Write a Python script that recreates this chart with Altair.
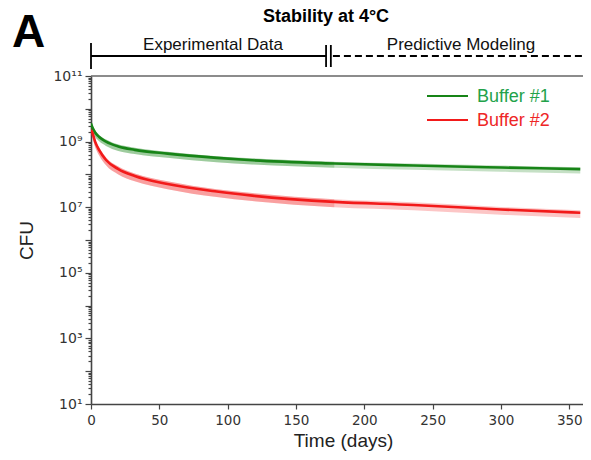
import altair as alt
import pandas as pd

# ---- data ----
days = [0, 1, 3, 6, 11, 20, 32, 56, 92, 118, 178, 236, 300, 358]
series_names = ["Buffer #1", "Buffer #2"]

buf1_cfu = [3.55e9, 2.75e9, 1.9e9, 1.38e9, 1.0e9, 7.1e8, 5.6e8, 4.3e8, 3.2e8, 2.7e8, 2.15e8, 1.86e8, 1.62e8, 1.45e8]
buf1_hi = [4.1e9, 3.2e9, 2.2e9, 1.6e9, 1.15e9, 8.1e8, 6.5e8, 4.9e8, 3.6e8, 3.1e8, 2.45e8, 2.15e8, 1.86e8, 1.66e8]
buf1_lo = [2.6e9, 2.05e9, 1.4e9, 1.02e9, 7.4e8, 5.2e8, 4.2e8, 3.2e8, 2.35e8, 2.0e8, 1.6e8, 1.38e8, 1.2e8, 1.07e8]

buf2_cfu = [2.2e9, 1.9e9, 1.0e9, 5.5e8, 2.75e8, 1.45e8, 8.9e7, 5.1e7, 3.0e7, 2.25e7, 1.45e7, 1.17e7, 8.5e6, 6.8e6]
buf2_hi = [2.7e9, 2.3e9, 1.2e9, 6.6e8, 3.3e8, 1.74e8, 1.07e8, 6.2e7, 3.55e7, 2.7e7, 1.74e7, 1.41e7, 1.02e7, 8.1e6]
buf2_lo = [1.55e9, 1.32e9, 6.9e8, 3.8e8, 1.9e8, 1.0e8, 6.2e7, 3.55e7, 2.05e7, 1.55e7, 1.0e7, 8.1e6, 5.9e6, 4.7e6]

experimental_end_day = 178
bracket_days = [0, 172, 175.5, 360]   # start, end of experimental, second bar, end of axis
x_ticks = [0, 50, 100, 150, 200, 250, 300, 350]
y_decades = [10 ** k for k in range(1, 12)]

line_colors = ["#178417", "#f21a1a"]
text_colors = ["#22a24a", "#ee2626"]

rows = []
for name, c, lo, hi in [(series_names[0], buf1_cfu, buf1_lo, buf1_hi),
                        (series_names[1], buf2_cfu, buf2_lo, buf2_hi)]:
    for d, v, l, h in zip(days, c, lo, hi):
        rows.append({"day": d, "series": name, "cfu": v, "lo": l, "hi": h})
df = pd.DataFrame(rows)

y_minor = []
for k in range(1, 11):
    for m in range(2, 10):
        y_minor.append(m * 10 ** k)
y_values = sorted(y_decades + y_minor)

exp_ = "round(log(datum.value)/LN10)"
is_major = f"abs(log(datum.value)/LN10 - {exp_}) < 0.001"
sup = {1: "10¹", 3: "10³", 5: "10⁵", 7: "10⁷", 9: "10⁹", 11: "10¹¹"}
lab = "''"
for k in sorted(sup, reverse=True):
    lab = f"({exp_} == {k} ? '{sup[k]}' : {lab})"
label_expr = f"({is_major}) ? {lab} : ''"

W, H = 492, 328

xscale = alt.Scale(domain=[0, bracket_days[3]], nice=False, zero=False)
yscale = alt.Scale(type="log", domain=[10, 1e11], nice=False)
cscale = alt.Scale(domain=series_names, range=line_colors)

x_enc = alt.X("day:Q", scale=xscale,
              axis=alt.Axis(values=x_ticks, title="Time (days)", grid=False,
                            tickSize=5, labelPadding=4, titlePadding=5,
                            titleX=252, titleAlign="center", labelFlush=False,
                            labelFontSize=13.5))
y_axis = alt.Axis(values=y_values, labelExpr=label_expr, title="CFU", grid=False,
                  labelOverlap=False, labelBound=False,
                  tickSize={"condition": {"test": is_major, "value": 6}, "value": 3},
                  labelPadding=3, titlePadding=16)

base = alt.Chart(df)

band_all = base.mark_area(opacity=0.25, interpolate="monotone", clip=True).encode(
    x=x_enc,
    y=alt.Y("lo:Q", scale=yscale, axis=y_axis),
    y2="hi:Q",
    color=alt.Color("series:N", scale=cscale, legend=None),
    detail="series:N",
)
band_exp = base.mark_area(opacity=0.22, interpolate="monotone").transform_filter(
    alt.datum.day <= experimental_end_day
).encode(
    x="day:Q", y="lo:Q", y2="hi:Q",
    color=alt.Color("series:N", scale=cscale, legend=None),
    detail="series:N",
)
lines = base.mark_line(strokeWidth=2.6, interpolate="monotone", clip=True).encode(
    x="day:Q", y="cfu:Q",
    color=alt.Color("series:N", scale=cscale, legend=None),
)

# top border of the plot frame
top_border = alt.Chart(pd.DataFrame({"t": [0]})).mark_rule(color="#666", strokeWidth=1.5).encode(
    x=alt.value(0), x2=alt.value(W), y=alt.value(0))

# legend drawn by hand (inside the plot, top right)
legend_layers = []
for i, name in enumerate(series_names):
    yy = 20 + 24 * i
    legend_layers.append(
        alt.Chart(pd.DataFrame({"series": [name]})).mark_rule(strokeWidth=2.2, color=line_colors[i]).encode(
            x=alt.value(336), x2=alt.value(377), y=alt.value(yy)))
    legend_layers.append(
        alt.Chart(pd.DataFrame({"series": [name]})).mark_text(
            align="left", baseline="middle", font="Liberation Sans", fontSize=18,
            color=text_colors[i]).encode(
            x=alt.value(386), y=alt.value(yy + 1), text="series:N"))

# header: panel letter, title, bracket
hdr = alt.Chart(pd.DataFrame({"t": ["A"]}))
letter = hdr.mark_text(align="left", baseline="alphabetic", font="Liberation Sans",
                       fontWeight="bold", fontSize=46, color="black").encode(
    x=alt.value(-79), y=alt.value(-29), text=alt.value("A"))
title = hdr.mark_text(align="center", baseline="alphabetic", font="Liberation Sans",
                      fontWeight="bold", fontSize=18, color="black").encode(
    x=alt.value(235), y=alt.value(-54), text=alt.value("Stability at 4°C"))
exp_label = hdr.mark_text(align="center", baseline="alphabetic", font="Liberation Sans",
                          fontSize=17, color="#111").encode(
    x=alt.value(122), y=alt.value(-26),
    text=alt.value("Experimental Data"))
pred_label = hdr.mark_text(align="center", baseline="alphabetic", font="Liberation Sans",
                           fontSize=17, color="#111").encode(
    x=alt.value(370), y=alt.value(-26),
    text=alt.value("Predictive Modeling"))
rule_kw = dict(color="black", strokeWidth=1.8)
left_bar = hdr.mark_rule(**rule_kw).encode(x=alt.datum(bracket_days[0]), y=alt.value(-33), y2=alt.value(-7))
exp_line = hdr.mark_rule(**rule_kw).encode(x=alt.datum(bracket_days[0]), x2=alt.datum(bracket_days[1]),
                                          y=alt.value(-20))
bar1 = hdr.mark_rule(**rule_kw).encode(x=alt.datum(bracket_days[1]), y=alt.value(-31), y2=alt.value(-9))
bar2 = hdr.mark_rule(**rule_kw).encode(x=alt.datum(bracket_days[2]), y=alt.value(-31), y2=alt.value(-9))
pred_line = hdr.mark_rule(color="black", strokeWidth=1.8, strokeDash=[7, 4]).encode(
    x=alt.datum(bracket_days[2] + 1.5), x2=alt.datum(bracket_days[3]), y=alt.value(-20))

chart = alt.layer(
    band_all, band_exp, lines, top_border, *legend_layers,
    letter, title, exp_label, pred_label, left_bar, exp_line, bar1, bar2, pred_line,
).properties(
    width=W, height=H,
    autosize=alt.AutoSizeParams(type="none"),
    padding={"left": 83, "top": 68, "right": 0, "bottom": 48},
).configure_view(
    strokeOpacity=0
).configure_axis(
    domainColor="#444", domainWidth=1.6, tickColor="#444", tickWidth=1.2,
    labelColor="#333", labelFont="DejaVu Sans", labelFontSize=14,
    titleFont="Liberation Sans", titleFontSize=19, titleFontWeight="normal", titleColor="#222",
)

chart.save("out.html", embed_options={"renderer": "svg", "actions": False})
